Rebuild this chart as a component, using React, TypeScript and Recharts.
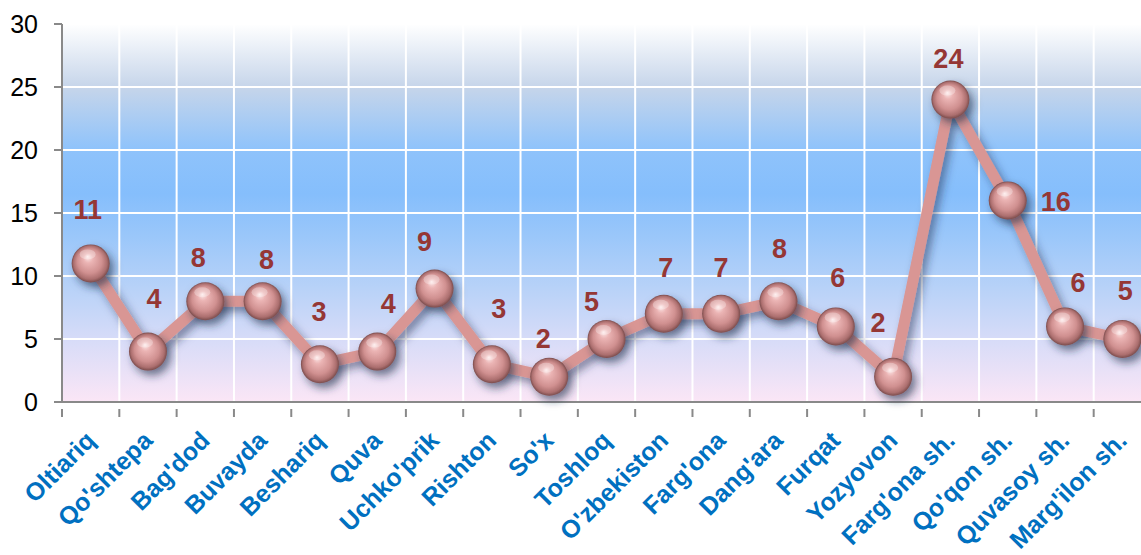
import React from 'react';
import { LineChart, Line, XAxis, YAxis, CartesianGrid, LabelList } from 'recharts';

const districts = [
  'Oltiariq', "Qo'shtepa", "Bag'dod", 'Buvayda', 'Beshariq', 'Quva', "Uchko'prik", 'Rishton', "So'x",
  'Toshloq', "O'zbekiston", "Farg'ona", "Dang'ara", 'Furqat', 'Yozyovon', "Farg'ona sh.", "Qo'qon sh.",
  'Quvasoy sh.', "Marg'ilon sh.",
];
const counts = [11, 4, 8, 8, 3, 4, 9, 3, 2, 5, 7, 7, 8, 6, 2, 24, 16, 6, 5];
const yTicks = [0, 5, 10, 15, 20, 25, 30];

// label nudges (dx, dy from the marker centre), Excel placed them by hand
const labelNudge: [number, number][] = [
  [-3, -53], [6, -53], [-7, -43], [4, -41], [-1, -52], [11, -48], [-10, -47], [7, -55], [-6, -38],
  [-15, -37], [2, -46], [0, -46], [1, -52], [2, -48], [-15, -54], [-2, -41], [48, 2], [13, -43], [3, -48],
];

const data = districts.map((name, i) => ({ name, value: counts[i] }));

const W = 1151;
const H = 555;

const CategoryTick = (props: any) => {
  const { x, y, payload } = props;
  const half = payload && payload.offset ? payload.offset : 28.6;
  return (
    <g>
      <line x1={x - half} x2={x - half} y1={y - 1} y2={y + 7} stroke="#898989" strokeWidth={2} />
      <g transform={`translate(${x + 6},${y + 32})`}>
        <text
          textAnchor="end"
          transform="rotate(-45)"
          fill="#0070c0"
          fontSize={25}
          fontWeight="bold"
          fontFamily="'Liberation Sans', Arial, sans-serif"
        >
          {payload.value}
        </text>
      </g>
    </g>
  );
};

const renderLabel = (props: any) => {
  const { x, y, value, index } = props;
  const [dx, dy] = labelNudge[index] || [0, -48];
  return (
    <text
      key={`lbl-${index}`}
      x={x + dx}
      y={y + dy}
      textAnchor="middle"
      dominantBaseline="central"
      fill="#953735"
      fontSize={27}
      fontWeight="bold"
      fontFamily="'Liberation Sans', Arial, sans-serif"
    >
      {value}
    </text>
  );
};

const renderDot = (props: any) => {
  const { cx, cy, index } = props;
  return (
    <g key={`dot-${index}`}>
      <circle cx={cx} cy={cy} r={19} fill="url(#sphere)" filter="url(#dotShadow)" />
      <ellipse cx={cx - 3} cy={cy - 9} rx={8} ry={5} fill="#ffffff" opacity={0.3} />
    </g>
  );
};

const App: React.FC = () => {
  return (
    <div style={{ position: 'absolute', left: 0, top: 0, width: 1141, height: 555, overflow: 'hidden', background: '#fff' }}>
      <svg width={0} height={0} style={{ position: 'absolute' }}>
        <defs>
          <linearGradient id="plotBg" x1="0" y1="0" x2="0" y2="1">
            <stop offset="0%" stopColor="#ffffff" />
            <stop offset="16.7%" stopColor="#c6d5ea" />
            <stop offset="33%" stopColor="#8fc3fb" />
            <stop offset="45%" stopColor="#85befc" />
            <stop offset="55%" stopColor="#98c6fa" />
            <stop offset="70%" stopColor="#b8d2f8" />
            <stop offset="84%" stopColor="#d8dcf8" />
            <stop offset="100%" stopColor="#fbe6f6" />
          </linearGradient>
          <radialGradient id="sphere" cx="50%" cy="50%" r="50%" fx="42%" fy="32%">
            <stop offset="0%" stopColor="#fdeaea" />
            <stop offset="25%" stopColor="#ebb4b4" />
            <stop offset="65%" stopColor="#d09090" />
            <stop offset="88%" stopColor="#ab6e6e" />
            <stop offset="100%" stopColor="#7a4c4c" />
          </radialGradient>
          <filter id="dotShadow" x="-50%" y="-50%" width="200%" height="200%">
            <feDropShadow dx="4" dy="5" stdDeviation="4" floodColor="#1a2a48" floodOpacity="0.6" />
          </filter>
          <filter id="lineShadow" x="-10%" y="-10%" width="120%" height="120%">
            <feDropShadow dx="4" dy="5" stdDeviation="4" floodColor="#1a2a48" floodOpacity="0.5" />
          </filter>
        </defs>
      </svg>
      <LineChart width={W} height={H} data={data} margin={{ top: 24, right: 0, bottom: 0, left: 0 }}>
        <CartesianGrid
          stroke="#ffffff"
          strokeWidth={2}
          fill="url(#plotBg)"
          fillOpacity={1}
          verticalCoordinatesGenerator={({ offset }: any) =>
            districts.map((_, i) => offset.left + (i * offset.width) / districts.length)
          }
        />
        <XAxis
          dataKey="name"
          scale="band"
          interval={0}
          height={153}
          axisLine={{ stroke: '#898989', strokeWidth: 2 }}
          tickLine={false}
          tick={<CategoryTick />}
        />
        <YAxis
          domain={[0, 30]}
          ticks={yTicks}
          width={62}
          tickSize={8}
          tickMargin={16}
          axisLine={{ stroke: '#898989', strokeWidth: 2 }}
          tickLine={{ stroke: '#898989', strokeWidth: 2 }}
          tick={{ fill: '#000', fontSize: 25, fontFamily: "'Liberation Sans', Arial, sans-serif" }}
        />
        <Line
          dataKey="value"
          stroke="#d99694"
          strokeWidth={11}
          filter="url(#lineShadow)"
          dot={renderDot}
          activeDot={false}
          isAnimationActive={false}
        >
          <LabelList dataKey="value" content={renderLabel} />
        </Line>
      </LineChart>
    </div>
  );
};

export default App;
